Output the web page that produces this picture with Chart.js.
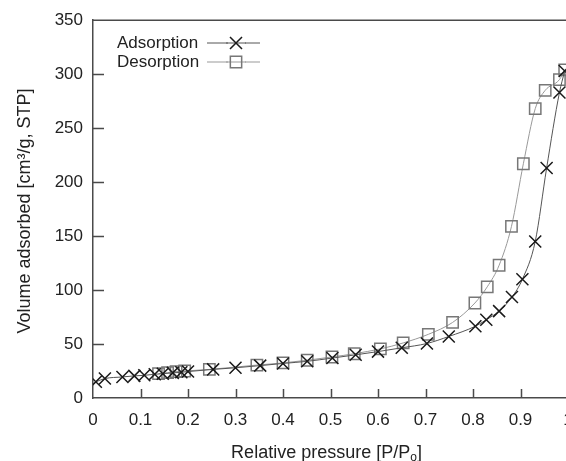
<!DOCTYPE html>
<html>
<head>
<meta charset="utf-8">
<script src="https://cdn.jsdelivr.net/npm/chart.js@4/dist/chart.umd.min.js"></script>
<style>
  html, body { margin: 0; padding: 0; background: #fff; overflow: hidden; }
  #wrap { width: 610px; height: 461px; position: relative; }
</style>
</head>
<body>
<div id="wrap"><canvas id="c" width="610" height="461"></canvas></div>
<script>
// ---- data ----
const adsP = [0.006, 0.025, 0.062, 0.087, 0.108, 0.13, 0.147, 0.168, 0.186, 0.2, 0.253, 0.3, 0.352, 0.4, 0.451, 0.504, 0.553, 0.6, 0.65, 0.703, 0.749, 0.805, 0.828, 0.855, 0.882, 0.904, 0.931, 0.955, 0.982, 0.993];
const adsV = [15, 18, 19.5, 20.5, 21, 22, 22.5, 23.3, 23.8, 24.5, 26.5, 28, 30, 32, 34, 37, 40, 43, 46.5, 50.5, 57, 66.5, 72.5, 80.5, 93.5, 110, 145, 213, 283, 303];
const desP = [0.993, 0.982, 0.952, 0.931, 0.906, 0.881, 0.855, 0.83, 0.804, 0.757, 0.706, 0.653, 0.605, 0.55, 0.503, 0.451, 0.4, 0.345, 0.245, 0.193, 0.175, 0.157, 0.138];
const desV = [304, 295, 285, 268, 217, 159, 123, 103, 88, 70, 59, 51, 45.5, 41, 38, 35, 32.5, 30.5, 26.5, 25, 24.5, 23.5, 22.5];
const seriesNames = ["Adsorption", "Desorption"];
const xTitle = ["Relative pressure [P/P", "o", "]"];
const yTitle = "Volume adsorbed [cm\u00B3/g, STP]";
const xTicks = [0, 0.1, 0.2, 0.3, 0.4, 0.5, 0.6, 0.7, 0.8, 0.9, 1];
const yTicks = [0, 50, 100, 150, 200, 250, 300, 350];

const FONT = "'Liberation Sans', Arial, Helvetica, sans-serif";
const AXIS = "#4a4a4a";

const toPts = (xs, ys) => xs.map((x, i) => ({ x: x, y: ys[i] }));

const decor = {
  id: 'decor',
  afterDraw(chart) {
    const ctx = chart.ctx, a = chart.chartArea;
    const xs = chart.scales.x, ys = chart.scales.y;
    ctx.save();
    ctx.strokeStyle = AXIS;
    ctx.lineWidth = 1.5;
    // top border
    ctx.beginPath();
    ctx.moveTo(a.left, a.top); ctx.lineTo(a.right, a.top);
    ctx.stroke();
    // inward ticks
    ctx.beginPath();
    yTicks.forEach(v => {
      if (v === 0 || v === 350) return;
      const p = Math.round(ys.getPixelForValue(v)) + 0.5;
      ctx.moveTo(a.left, p); ctx.lineTo(a.left + 11, p);
    });
    xTicks.forEach(v => {
      if (v === 0) return;
      const p = Math.round(xs.getPixelForValue(v)) + 0.5;
      ctx.moveTo(p, a.bottom); ctx.lineTo(p, a.bottom - 9);
    });
    ctx.stroke();

    // axis titles
    ctx.fillStyle = "#222";
    ctx.font = "18px " + FONT;
    ctx.textBaseline = "alphabetic";
    const w0 = ctx.measureText(xTitle[0]).width;
    ctx.font = "12px " + FONT;
    const w1 = ctx.measureText(xTitle[1]).width;
    ctx.font = "18px " + FONT;
    const w2 = ctx.measureText(xTitle[2]).width;
    const total = w0 + w1 + w2;
    let x0 = (a.left + 568) / 2 - total / 2 - 4;
    const base = 458;
    ctx.textAlign = "left";
    ctx.fillText(xTitle[0], x0, base);
    ctx.font = "12px " + FONT;
    ctx.fillText(xTitle[1], x0 + w0, base + 3);
    ctx.font = "18px " + FONT;
    ctx.fillText(xTitle[2], x0 + w0 + w1, base);

    ctx.save();
    ctx.translate(25, 211);
    ctx.rotate(-Math.PI / 2);
    ctx.textAlign = "center";
    ctx.textBaseline = "middle";
    ctx.fillText(yTitle, 0, 0);
    ctx.restore();

    // legend
    ctx.font = "17px " + FONT;
    ctx.textAlign = "left";
    ctx.textBaseline = "middle";
    const rows = [
      { y: 43, name: seriesNames[0], ds: chart.data.datasets[0] },
      { y: 62, name: seriesNames[1], ds: chart.data.datasets[1] }
    ];
    rows.forEach(r => {
      ctx.fillStyle = "#222";
      ctx.fillText(r.name, 117, r.y);
      ctx.strokeStyle = r.ds.borderColor;
      ctx.lineWidth = 1;
      ctx.beginPath();
      ctx.moveTo(207, r.y); ctx.lineTo(260, r.y);
      ctx.stroke();
      Chart.helpers.drawPoint(ctx, {
        pointStyle: r.ds.pointStyle,
        rotation: 0,
        borderWidth: r.ds.pointBorderWidth
      }, 236, r.y);
    });
    ctx.restore();
  },
  beforeDatasetsDraw() {}
};

// wrap drawPoint styling for legend markers
const origDecorAfter = decor.afterDraw;
decor.afterDraw = function (chart) {
  const ctx = chart.ctx;
  const dsA = chart.data.datasets[0], dsD = chart.data.datasets[1];
  origDecorAfter.call(this, chart);
  // redraw legend markers with proper colours/radius
  ctx.save();
  ctx.fillStyle = "#ffffff";
  ctx.fillRect(228, 53, 17, 18);
  ctx.fillRect(228, 35, 17, 17);
  ctx.strokeStyle = dsA.borderColor; ctx.lineWidth = 1;
  ctx.beginPath(); ctx.moveTo(226, 43); ctx.lineTo(246, 43); ctx.stroke();
  ctx.strokeStyle = dsD.borderColor;
  ctx.beginPath(); ctx.moveTo(226, 62); ctx.lineTo(246, 62); ctx.stroke();
  ctx.strokeStyle = dsA.pointBorderColor; ctx.lineWidth = dsA.pointBorderWidth;
  Chart.helpers.drawPoint(ctx, { pointStyle: dsA.pointStyle, radius: dsA.pointRadius, rotation: 0, borderWidth: dsA.pointBorderWidth }, 236, 43);
  ctx.strokeStyle = dsD.pointBorderColor; ctx.lineWidth = dsD.pointBorderWidth;
  ctx.fillStyle = "rgba(0,0,0,0)";
  Chart.helpers.drawPoint(ctx, { pointStyle: dsD.pointStyle, radius: dsD.pointRadius, rotation: 0, borderWidth: dsD.pointBorderWidth }, 236, 62);
  ctx.restore();
};

new Chart(document.getElementById('c'), {
  type: 'scatter',
  data: {
    datasets: [
      {
        label: seriesNames[0],
        data: toPts(adsP, adsV),
        showLine: true,
        borderColor: "#555555",
        borderWidth: 1,
        pointStyle: 'crossRot',
        pointRadius: 8.5,
        pointBorderColor: "#1a1a1a",
        pointBorderWidth: 1.5,
        pointBackgroundColor: "rgba(0,0,0,0)",
        cubicInterpolationMode: 'monotone'
      },
      {
        label: seriesNames[1],
        data: toPts(desP, desV),
        showLine: true,
        borderColor: "#999999",
        borderWidth: 1,
        pointStyle: 'rect',
        pointRadius: 8,
        pointBorderColor: "#777777",
        pointBorderWidth: 1.5,
        pointBackgroundColor: "rgba(0,0,0,0)",
        cubicInterpolationMode: 'monotone'
      }
    ]
  },
  options: {
    responsive: false,
    animation: false,
    layout: { padding: { left: 0, top: 20, right: 42, bottom: 0 } },
    plugins: { legend: { display: false }, tooltip: { enabled: false } },
    scales: {
      x: {
        type: 'linear', min: 0, max: 1,
        afterFit(s) { s.height = 63; },
        afterBuildTicks(s) { s.ticks = xTicks.map(v => ({ value: v })); },
        grid: { drawOnChartArea: false, drawTicks: false },
        border: { display: true, color: AXIS, width: 1.5 },
        ticks: {
          padding: 12, color: "#222", maxRotation: 0, autoSkip: false,
          font: { size: 17, family: FONT },
          callback: v => String(parseFloat(Number(v).toFixed(1)))
        }
      },
      y: {
        type: 'linear', min: 0, max: 350,
        afterFit(s) { s.width = 93; },
        afterBuildTicks(s) { s.ticks = yTicks.map(v => ({ value: v })); },
        grid: { drawOnChartArea: false, drawTicks: false },
        border: { display: true, color: AXIS, width: 1.5 },
        ticks: {
          padding: 10, color: "#222", autoSkip: false,
          font: { size: 17, family: FONT },
          callback: v => String(v)
        }
      }
    }
  },
  plugins: [decor]
});
</script>
</body>
</html>
